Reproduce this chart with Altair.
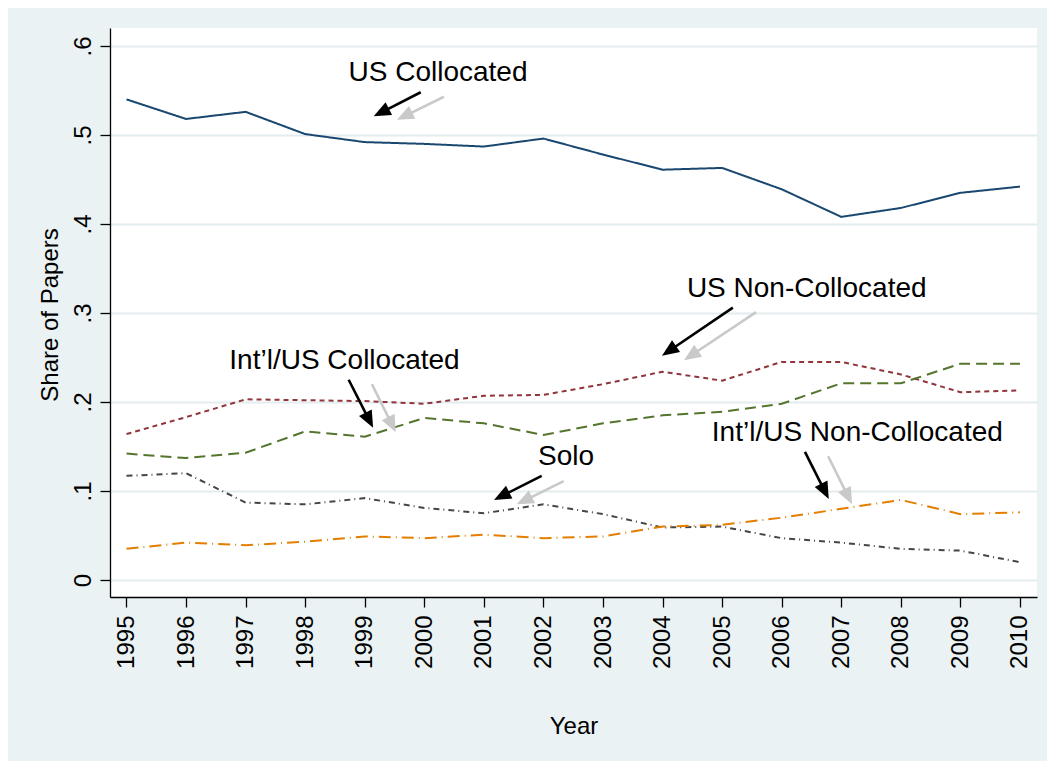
import math
import altair as alt
import pandas as pd

# ---------------- data ----------------
years = list(range(1995, 2011))
series_names = ["US Collocated", "US Non-Collocated", "Int'l/US Collocated", "Solo", "Int'l/US Non-Collocated"]
us_collocated = [0.540, 0.518, 0.526, 0.501, 0.492, 0.490, 0.487, 0.496, 0.478, 0.461, 0.463, 0.439, 0.408, 0.418, 0.435, 0.442]
us_noncollocated = [0.164, 0.183, 0.203, 0.202, 0.201, 0.198, 0.207, 0.208, 0.220, 0.234, 0.224, 0.245, 0.245, 0.231, 0.211, 0.213]
intl_collocated = [0.142, 0.137, 0.143, 0.167, 0.161, 0.182, 0.176, 0.163, 0.176, 0.185, 0.189, 0.198, 0.221, 0.221, 0.243, 0.243]
solo = [0.117, 0.120, 0.087, 0.085, 0.092, 0.081, 0.075, 0.085, 0.074, 0.059, 0.060, 0.047, 0.042, 0.035, 0.033, 0.020]
intl_noncollocated = [0.035, 0.042, 0.039, 0.043, 0.049, 0.047, 0.051, 0.047, 0.049, 0.060, 0.062, 0.070, 0.080, 0.090, 0.074, 0.076]

series_colors = ["#1a476f", "#90353b", "#55752f", "#454545", "#e37e00"]
series_dashes = [[1, 0], [5, 4], [11, 6], [6, 4, 1, 4], [12, 5, 1, 5]]

y_ticks = [0, 0.1, 0.2, 0.3, 0.4, 0.5, 0.6]
y_tick_labels = ["0", ".1", ".2", ".3", ".4", ".5", ".6"]
x_ticks = years

# annotations (data units)
label_texts = ["US Collocated", "US Non-Collocated", "Int\u2019l/US Collocated", "Solo", "Int\u2019l/US Non-Collocated"]
label_x = [2000.23, 2006.42, 1998.66, 2002.38, 2007.27]
label_y = [0.561, 0.318, 0.237, 0.129, 0.156]
# black arrows: tail -> tip
black_tail_x = [1999.94, 2005.18, 1998.73, 2001.97, 2006.39]
black_tail_y = [0.548, 0.306, 0.225, 0.117, 0.144]
black_tip_x = [1999.15, 2003.99, 1999.14, 2001.17, 2006.79]
black_tip_y = [0.521, 0.252, 0.171, 0.090, 0.091]
# gray arrows
gray_tail_x = [2000.33, 2005.57, 1999.12, 2002.34, 2006.78]
gray_tail_y = [0.543, 0.301, 0.220, 0.111, 0.139]
gray_tip_x = [1999.54, 2004.36, 1999.52, 2001.55, 2007.18]
gray_tip_y = [0.517, 0.247, 0.166, 0.085, 0.085]

# ---------------- layout ----------------
W, H = 927, 569
x_dom = [1994.723, 2010.286]
y_dom = [-0.0191, 0.6202]
px_per_x = W / (x_dom[1] - x_dom[0])
px_per_y = H / (y_dom[1] - y_dom[0])

FONT = "Liberation Sans"
BG = "#EAF2F3"

rows = []
for name, vals in zip(series_names, [us_collocated, us_noncollocated, intl_collocated, solo, intl_noncollocated]):
    for yr, v in zip(years, vals):
        rows.append({"Year": yr, "Share": v, "Series": name})
df = pd.DataFrame(rows)

x_scale = alt.Scale(domain=x_dom, nice=False, zero=False)
y_scale = alt.Scale(domain=y_dom, nice=False, zero=False)

label_expr = " : ".join(
    f"abs(datum.value - {v}) < 0.001 ? '{t}'" for v, t in zip(y_ticks, y_tick_labels)
) + " : ''"

lines = alt.Chart(df).mark_line(strokeWidth=2, strokeCap="butt").encode(
    x=alt.X("Year:Q", scale=x_scale,
            axis=alt.Axis(values=x_ticks, format="d", title="Year", grid=False,
                          labelAngle=270, labelAlign="right", labelBaseline="middle",
                          labelPadding=8, tickSize=10, tickColor="black", domainColor="black",
                          domainWidth=1.3, tickWidth=1.3, labelFontSize=24, labelFont=FONT,
                          labelColor="black", titleFontSize=24, titleFont=FONT,
                          titleFontWeight="normal", titleColor="black",
                          titleX=W / 2, titleY=136, titleBaseline="alphabetic",
                          titleAlign="center", labelFlush=False, labelOverlap=False)),
    y=alt.Y("Share:Q", scale=y_scale,
            axis=alt.Axis(values=y_ticks, labelExpr=label_expr, title="Share of Papers",
                          grid=True, gridColor="#E3ECEE", gridWidth=1.8,
                          labelAngle=270, labelAlign="center", labelBaseline="alphabetic",
                          labelPadding=10, tickSize=10, tickColor="black", domainColor="black",
                          domainWidth=1.3, tickWidth=1.3, labelFontSize=24, labelFont=FONT,
                          labelColor="black", titleFontSize=24, titleFont=FONT,
                          titleFontWeight="normal", titleColor="black", titleAngle=270,
                          titleX=-53, titleY=H / 2 + 2, titleBaseline="alphabetic",
                          titleAlign="center", labelFlush=False, labelOverlap=False)),
    color=alt.Color("Series:N", scale=alt.Scale(domain=series_names, range=series_colors), legend=None),
    strokeDash=alt.StrokeDash("Series:N", scale=alt.Scale(domain=series_names, range=series_dashes), legend=None),
    detail="Series:N",
)

# arrows
arrow_rows = []
for kind, color, tx, ty, hx, hy in [
    ("gray", "#c9c9c9", gray_tail_x, gray_tail_y, gray_tip_x, gray_tip_y),
    ("black", "#000000", black_tail_x, black_tail_y, black_tip_x, black_tip_y),
]:
    for i in range(len(tx)):
        dxp = (hx[i] - tx[i]) * px_per_x
        dyp = -(hy[i] - ty[i]) * px_per_y
        L = math.hypot(dxp, dyp)
        ang = math.degrees(math.atan2(dxp, -dyp)) % 360
        back = 12.0 / L
        arrow_rows.append({
            "kind": kind, "color": color,
            "x1": tx[i], "y1": ty[i],
            "x2": hx[i] - (hx[i] - tx[i]) * back, "y2": hy[i] - (hy[i] - ty[i]) * back,
            "hx": hx[i], "hy": hy[i], "angle": ang,
        })
adf = pd.DataFrame(arrow_rows)

shafts = alt.Chart(adf).mark_rule(strokeWidth=2.6, strokeCap="butt").encode(
    x=alt.X("x1:Q", scale=x_scale), y=alt.Y("y1:Q", scale=y_scale),
    x2="x2:Q", y2="y2:Q",
    color=alt.Color("color:N", scale=None),
)
heads = alt.Chart(adf).mark_point(
    shape="M0,0L-0.42,1L0.42,1Z", size=1156, filled=True, opacity=1, strokeWidth=0
).encode(
    x=alt.X("hx:Q", scale=x_scale), y=alt.Y("hy:Q", scale=y_scale),
    angle=alt.Angle("angle:Q", scale=None),
    color=alt.Color("color:N", scale=None),
)

tdf = pd.DataFrame({"t": label_texts, "x": label_x, "y": label_y})
texts = alt.Chart(tdf).mark_text(
    fontSize=28, font=FONT, color="black", align="center", baseline="alphabetic"
).encode(
    x=alt.X("x:Q", scale=x_scale), y=alt.Y("y:Q", scale=y_scale), text="t:N"
)

chart = alt.layer(lines, shafts, heads, texts).properties(
    width=W, height=H,
    autosize=alt.AutoSizeParams(type="none"),
    padding={"left": 102, "top": 20, "right": 10, "bottom": 164},
    background=BG,
).configure_view(fill="white", strokeWidth=0)

chart.save("out.html", embed_options={"renderer": "svg", "actions": False})
